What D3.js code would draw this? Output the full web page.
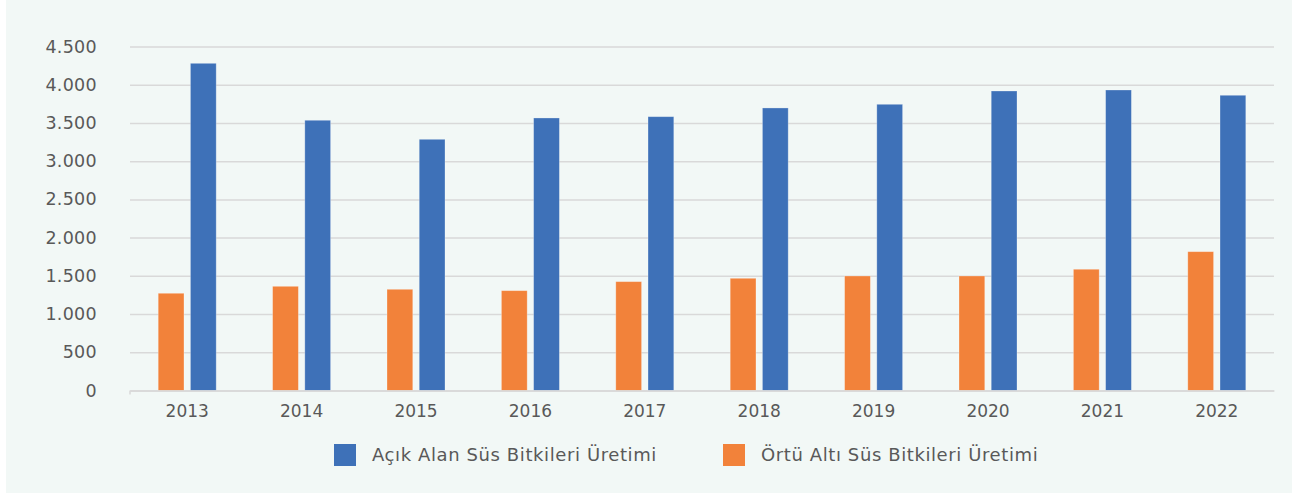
<!DOCTYPE html>
<html>
<head>
<meta charset="utf-8">
<script src="https://cdn.jsdelivr.net/npm/d3@7"></script>
<style>
  html, body { margin: 0; padding: 0; background: #ffffff; }
  svg { display: block; }
  text { font-family: "DejaVu Sans", "Open Sans", sans-serif; fill: #595959; }
</style>
</head>
<body>
<svg id="chart" width="1292" height="493"></svg>
<script>
const years = ["2013","2014","2015","2016","2017","2018","2019","2020","2021","2022"];
const acikAlan = [4280, 3535, 3286, 3565, 3582, 3696, 3744, 3918, 3931, 3862];
const ortuAlti = [1272, 1363, 1324, 1306, 1424, 1468, 1498, 1498, 1586, 1816];
const seriesNames = ["Açık Alan Süs Bitkileri Üretimi", "Örtü Altı Süs Bitkileri Üretimi"];
const seriesColors = ["#3e71b8", "#f2823a"];
const yTicks = [0, 500, 1000, 1500, 2000, 2500, 3000, 3500, 4000, 4500];

const svg = d3.select("#chart");
svg.append("rect").attr("x", 6).attr("y", 0).attr("width", 1286).attr("height", 493).attr("fill", "#f2f8f6");

const x0 = d3.scaleBand().domain(years).range([130, 1274]).padding(0);
const y = d3.scaleLinear().domain([0, 4500]).range([390.5, 46.5]);
const groupKeys = ["ortu", "acik"];
const groupW = 58;
const x1 = d3.scaleBand().domain(groupKeys).range([0, groupW]).paddingInner(0.2);
const seriesMap = { acik: { vals: acikAlan, color: seriesColors[0] }, ortu: { vals: ortuAlti, color: seriesColors[1] } };

const fmt = v => d3.format(",")(v).replace(/,/g, ".");

const yAxis = d3.axisLeft(y).tickValues(yTicks).tickSize(-(1274 - 130)).tickFormat(fmt).tickPadding(33);
const gy = svg.append("g").attr("transform", "translate(130,0)").call(yAxis);
gy.select(".domain").remove();
gy.selectAll(".tick line").attr("stroke", "#d9d9d9").attr("stroke-width", 1.5);
gy.selectAll(".tick text").attr("font-size", 17.5).attr("letter-spacing", 0.3).style("fill", "#595959");

const groups = svg.append("g").selectAll("g").data(years).join("g")
  .attr("transform", d => `translate(${x0(d) + (x0.bandwidth() - groupW) / 2},0)`);
groups.selectAll("rect").data((d, i) => groupKeys.map(k => ({ k, v: seriesMap[k].vals[i] })))
  .join("rect")
  .attr("x", d => x1(d.k))
  .attr("width", x1.bandwidth())
  .attr("y", d => y(d.v))
  .attr("height", d => y(0) - y(d.v))
  .attr("fill", d => seriesMap[d.k].color)
  .attr("stroke", "#ffffff").attr("stroke-opacity", 0.35).attr("stroke-width", 0.8);

const xAxis = d3.axisBottom(x0).tickSize(0).tickPadding(14.5);
const gx = svg.append("g").attr("transform", `translate(0,${y(0)})`).call(xAxis);
gx.select(".domain").attr("stroke", "#d9d9d9").attr("stroke-width", 1.5);
gx.selectAll(".tick text").attr("font-size", 17).style("fill", "#595959");
svg.append("line").attr("x1", 130).attr("x2", 130).attr("y1", y(0)).attr("y2", y(0) + 4).attr("stroke", "#d9d9d9").attr("stroke-width", 1.5);

const legendItems = [
  { name: seriesNames[0], color: seriesColors[0], x: 334 },
  { name: seriesNames[1], color: seriesColors[1], x: 723 }
];
const lg = svg.append("g").selectAll("g").data(legendItems).join("g")
  .attr("transform", d => `translate(${d.x},444)`);
lg.append("rect").attr("width", 22).attr("height", 22).attr("fill", d => d.color);
lg.append("text").attr("x", 38).attr("y", 16.8).attr("font-size", 18).attr("letter-spacing", 0.6).text(d => d.name);
</script>
</body>
</html>
